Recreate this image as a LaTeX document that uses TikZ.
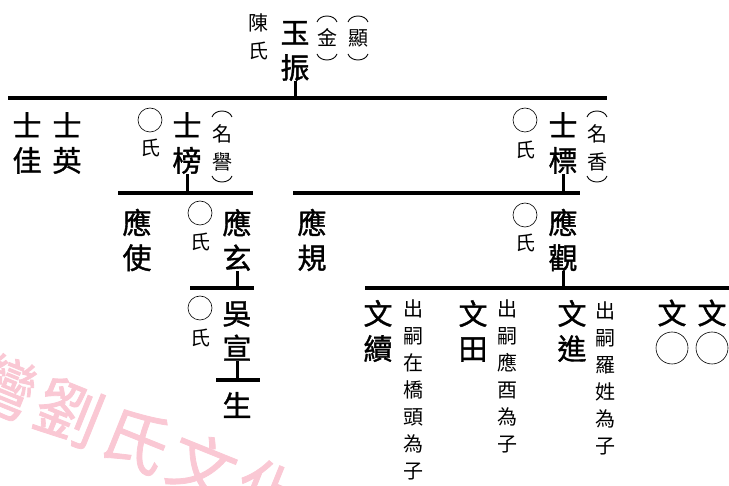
\documentclass[tikz,border=0pt]{standalone}
\usepackage{fontspec}
\newfontfamily\cjk{Noto Sans CJK TC}
\newfontfamily\cjkb[FakeBold=1.2]{Noto Sans CJK TC}
\definecolor{wmpink}{RGB}{250,200,212}
\begin{document}
\begin{tikzpicture}[x=1pt,y=-1pt,
  big/.style={font=\cjkb\fontsize{29}{35}\selectfont, align=center, inner sep=0pt},
  small/.style={font=\cjk\fontsize{20}{28}\selectfont, align=center, inner sep=0pt},
  note/.style={font=\cjk\fontsize{20}{27}\selectfont, align=center, inner sep=0pt},
  wmark/.style={font=\cjkb\fontsize{66}{66}\selectfont, text=wmpink, inner sep=0pt},
  bar/.style={line width=3.5pt},
  stem/.style={line width=3pt},
  spouse/.style={circle, draw, line width=0.6pt, minimum size=24pt, inner sep=0pt},
  unknown/.style={circle, draw, line width=0.6pt, minimum size=32pt, inner sep=0pt},
  paren/.style={line width=0.9pt}]
\useasboundingbox (0,0) rectangle (729,486);
% watermark
\begin{scope}
  \clip (0,0) rectangle (729,486);
  \node[wmark, rotate=-22] (wm) at (136,439)
    {灣\hspace{6pt}劉\hspace{6pt}氏\hspace{6pt}文\hspace{6pt}化};
\end{scope}
% generation 1
\node[small] (chen) at (258,37) {陳\\氏};
\node[big] (yz) at (295,51) {玉\\振};
\node[small] (jin) at (327,38) {金};
\node[small] (xian) at (358,38) {顯};
\foreach \x in {327,358}{
  \draw[paren] (\x-10,22) .. controls (\x-7,14) and (\x+7,14) .. (\x+10,22);
  \draw[paren] (\x-10,54) .. controls (\x-7,62) and (\x+7,62) .. (\x+10,54);
}
\coordinate (b1l) at (8,98);
\coordinate (b1r) at (607,98);
\draw[bar] (b1l) -- (b1r);
\draw[stem] (yz.south) -- (yz.south |- b1l);
% generation 2
\node[big] (sj) at (27,143) {士\\佳};
\node[big] (sy) at (67,143) {士\\英};
\node[spouse] (s1c) at (150,120) {};
\node[small] (s1s) at (150,148) {氏};
\node[big] (sb) at (187,143) {士\\榜};
\node[small] (mingyu) at (222,148) {名\\譽};
\node[spouse] (s2c) at (525,120) {};
\node[small] (s2s) at (525,150) {氏};
\node[big] (sbiao) at (563,143) {士\\標};
\node[small] (mingx) at (597,148) {名\\香};
\foreach \x in {222,597}{
  \draw[paren] (\x-10,117) .. controls (\x-7,109) and (\x+7,109) .. (\x+10,117);
  \draw[paren] (\x-10,176) .. controls (\x-7,184) and (\x+7,184) .. (\x+10,176);
}
\coordinate (b2l) at (118,193);
\coordinate (b2lr) at (253,193);
\coordinate (b2r) at (293,193);
\coordinate (b2rr) at (580,193);
\draw[bar] (b2l) -- (b2lr);
\draw[bar] (b2r) -- (b2rr);
\draw[stem] (sb.south) -- (sb.south |- b2l);
\draw[stem] (sbiao.south) -- (sbiao.south |- b2r);
% generation 3
\node[big] (ys) at (137,240) {應\\使};
\node[spouse] (s3c) at (200,213) {};
\node[small] (s3s) at (200,242) {氏};
\node[big] (yx) at (237,240) {應\\玄};
\node[big] (yg) at (312,240) {應\\規};
\node[spouse] (s4c) at (525,215) {};
\node[small] (s4s) at (525,243) {氏};
\node[big] (yguan) at (563,240) {應\\觀};
\coordinate (b3l) at (190,288);
\coordinate (b3lr) at (254,288);
\coordinate (b3r) at (365,288);
\coordinate (b3rr) at (729,288);
\draw[bar] (b3l) -- (b3lr);
\draw[bar] (b3r) -- (b3rr);
\draw[stem] (yx.south) -- (yx.south |- b3l);
\draw[stem] (yguan.south) -- (yguan.south |- b3r);
% generation 4
\node[spouse] (s5c) at (200,308) {};
\node[small] (s5s) at (200,338) {氏};
\node[big] (wx) at (237,331) {吳\\宣};
\coordinate (b4l) at (216,380);
\coordinate (b4r) at (260,380);
\draw[bar] (b4l) -- (b4r);
\draw[stem] (wx.south) -- (wx.south |- b4l);
\node[big] (sheng) at (237,405) {生};
\node[big] (wxu) at (378,331) {文\\續};
\node[note] (n1) at (413,390) {出\\嗣\\在\\橋\\頭\\為\\子};
\node[big] (wt) at (473,331) {文\\田};
\node[note] (n2) at (507,376) {出\\嗣\\應\\酉\\為\\子};
\node[big] (wj) at (572,331) {文\\進};
\node[note] (n3) at (605,378) {出\\嗣\\羅\\姓\\為\\子};
\node[big] (w1) at (672,313) {文};
\node[unknown] (w1c) at (672,348) {};
\node[big] (w2) at (712,313) {文};
\node[unknown] (w2c) at (712,348) {};
\end{tikzpicture}
\end{document}
